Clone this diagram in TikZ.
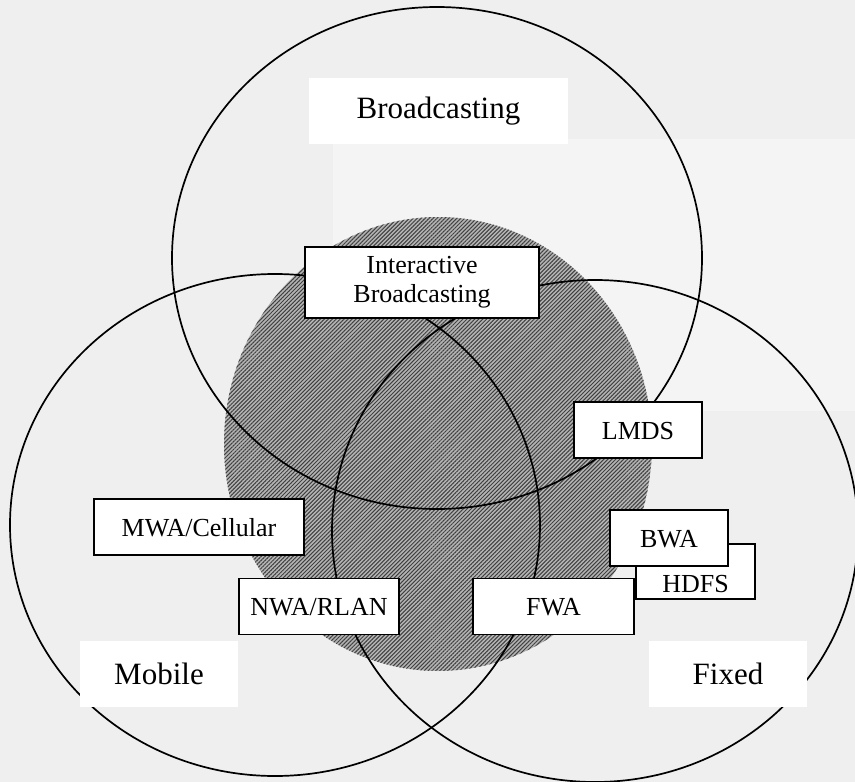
\documentclass[tikz,border=0pt]{standalone}
\usepackage{fontspec}
\setmainfont{Liberation Serif}
\usetikzlibrary{patterns.meta}

\definecolor{bgGray}{HTML}{EFEFEF}
\definecolor{paleGray}{HTML}{F4F4F4}
\definecolor{hatchGray}{HTML}{B4B4B4}

\begin{document}
\begin{tikzpicture}[x=1pt, y=-1pt, line width=1.7pt,
    tech/.style={draw, fill=white, inner sep=0pt, text height=37pt, text depth=19pt,
      font=\fontsize{26}{29}\selectfont},
    area/.style={fill=white, inner sep=0pt, minimum width=158pt, minimum height=66pt,
      font=\fontsize{31}{34}\selectfont}]
  % background
  \fill[bgGray] (0,0) rectangle (855,782);
  \fill[paleGray] (333,139) rectangle (855,411);
  \useasboundingbox (0,0) rectangle (855,782);

  % hatched core
  \path[preaction={fill=hatchGray}, pattern={Lines[angle=45, distance=2.8pt, line width=1pt]},
    pattern color=black!75] (438,444) ellipse [x radius=214, y radius=227];

  % the three services
  \draw (437,258) ellipse [x radius=265, y radius=251];
  \draw (275,525) ellipse [x radius=265, y radius=251];
  \draw (595,531) ellipse [x radius=263, y radius=251];

  % labels
  \node[area, minimum width=259pt] (bcast) at (438.5,111) {Broadcasting};
  \node[area] (mobile) at (159,674) {Mobile};
  \node[area] (fixed) at (728,674) {Fixed};

  \node[draw, fill=white, inner sep=0pt, minimum width=234pt, minimum height=71pt,
    align=center, font=\fontsize{26}{29}\selectfont] (ib) at (422,282.5)
    {Interactive\\Broadcasting};
  \node[tech, minimum width=128pt] (lmds) at (638,430) {LMDS};
  \node[tech, minimum width=210pt] (mwa) at (199,527) {MWA/Cellular};
  \node[tech, minimum width=119pt, text height=48pt, text depth=7pt] (hdfs) at (695.5,571.5) {HDFS};
  \node[tech, minimum width=118pt] (bwa) at (669,538) {BWA};
  \node[tech, minimum width=160pt] (nwa) at (319,606.5) {NWA/RLAN};
  \node[tech, minimum width=161pt] (fwa) at (553.5,606.5) {FWA};
\end{tikzpicture}
\end{document}
